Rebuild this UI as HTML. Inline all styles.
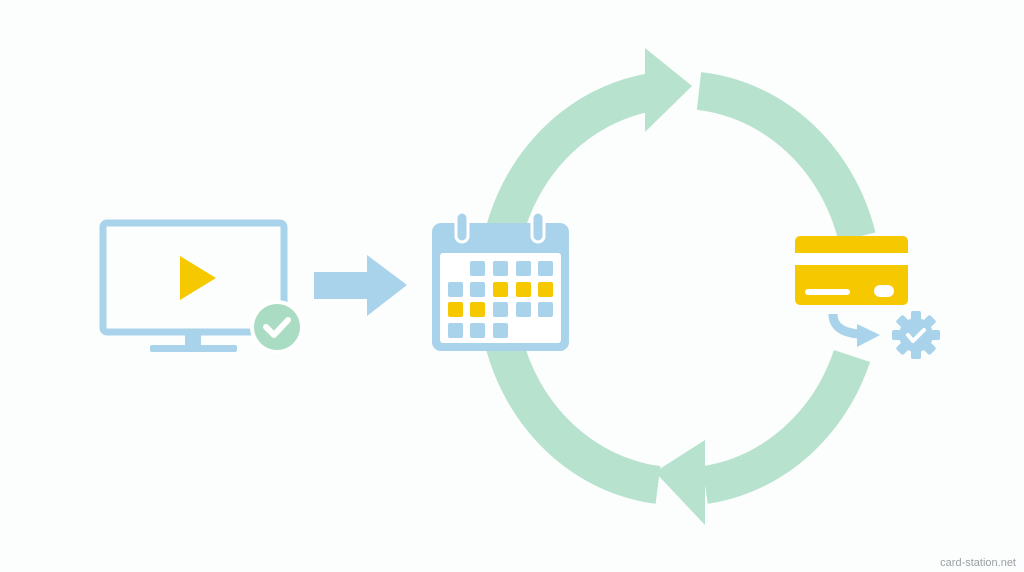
<!DOCTYPE html>
<html><head><style>
html,body{margin:0;padding:0;background:#fdfefe;}
svg{display:block}
</style></head><body>
<svg width="1024" height="572" viewBox="0 0 1024 572" xmlns="http://www.w3.org/2000/svg">
<rect width="1024" height="572" fill="#fcfdfd"/>
<g fill="none" stroke="#b7e2cd" stroke-width="38">
<path d="M503,237 A183,198 0 0 1 652,92"/>
<path d="M699,91 A183,198 0 0 1 857,237"/>
<path d="M852,356 A183,198 0 0 1 705,485"/>
<path d="M658,485 A183,198 0 0 1 503,339"/>
</g>
<polygon points="645,48 692,86 645,132" fill="#b7e2cd"/>
<polygon points="705,440 655,472 705,525" fill="#b7e2cd"/>
<!-- monitor -->
<rect x="103" y="223" width="181" height="109" rx="4" fill="none" stroke="#a9d3eb" stroke-width="7"/>
<rect x="185" y="333" width="16" height="13" fill="#a9d3eb"/>
<rect x="150" y="345" width="87" height="7" rx="2" fill="#a9d3eb"/>
<polygon points="180,256 180,300 216,278" fill="#f5c800"/>
<circle cx="277" cy="327" r="27" fill="#fff"/>
<circle cx="277" cy="327" r="23" fill="#a9dcc3"/>
<path d="M266,327 l8,8 l14,-15" fill="none" stroke="#fff" stroke-width="6" stroke-linecap="round" stroke-linejoin="round"/>
<!-- arrow -->
<rect x="314" y="272" width="56" height="27" fill="#a9d3eb"/>
<polygon points="367,255 407,285 367,316" fill="#a9d3eb"/>
<!-- calendar -->
<rect x="432" y="223" width="137" height="128" rx="9" fill="#a9d3eb"/>
<rect x="440" y="253" width="121" height="90" rx="3" fill="#fff"/>
<rect x="456" y="212" width="12" height="30" rx="6" fill="#a9d3eb" stroke="#fff" stroke-width="3"/>
<rect x="532" y="212" width="12" height="30" rx="6" fill="#a9d3eb" stroke="#fff" stroke-width="3"/>
<g fill="#a9d3eb">
<rect x="470" y="261" width="15" height="15" rx="2"/><rect x="493" y="261" width="15" height="15" rx="2"/><rect x="516" y="261" width="15" height="15" rx="2"/><rect x="538" y="261" width="15" height="15" rx="2"/>
<rect x="448" y="282" width="15" height="15" rx="2"/><rect x="470" y="282" width="15" height="15" rx="2"/>
<rect x="493" y="302" width="15" height="15" rx="2"/><rect x="516" y="302" width="15" height="15" rx="2"/><rect x="538" y="302" width="15" height="15" rx="2"/>
<rect x="448" y="323" width="15" height="15" rx="2"/><rect x="470" y="323" width="15" height="15" rx="2"/><rect x="493" y="323" width="15" height="15" rx="2"/>
</g>
<g fill="#f5c800">
<rect x="493" y="282" width="15" height="15" rx="2"/><rect x="516" y="282" width="15" height="15" rx="2"/><rect x="538" y="282" width="15" height="15" rx="2"/>
<rect x="448" y="302" width="15" height="15" rx="2"/><rect x="470" y="302" width="15" height="15" rx="2"/>
</g>
<!-- card -->
<rect x="795" y="236" width="113" height="69" rx="5" fill="#f5c800"/>
<rect x="795" y="253" width="113" height="12" fill="#fff"/>
<rect x="805" y="289" width="45" height="6" rx="3" fill="#fff"/>
<rect x="874" y="285" width="20" height="12" rx="6" fill="#fff"/>
<path d="M833,314 q0,18 26,20" fill="none" stroke="#a9d3eb" stroke-width="9"/>
<polygon points="857,324 880,335 857,347" fill="#a9d3eb"/>
<!-- gear -->
<g transform="translate(916,335)" fill="#a9d3eb">
<circle r="17"/>
<g>
<rect x="-5" y="-24" width="10" height="10" rx="2"/>
<rect x="-5" y="-24" width="10" height="10" rx="2" transform="rotate(45)"/>
<rect x="-5" y="-24" width="10" height="10" rx="2" transform="rotate(90)"/>
<rect x="-5" y="-24" width="10" height="10" rx="2" transform="rotate(135)"/>
<rect x="-5" y="-24" width="10" height="10" rx="2" transform="rotate(180)"/>
<rect x="-5" y="-24" width="10" height="10" rx="2" transform="rotate(225)"/>
<rect x="-5" y="-24" width="10" height="10" rx="2" transform="rotate(270)"/>
<rect x="-5" y="-24" width="10" height="10" rx="2" transform="rotate(315)"/>
</g>
<path d="M-8,0 l5,6 l11,-11" fill="none" stroke="#fff" stroke-width="4" stroke-linecap="round" stroke-linejoin="round"/>
</g>
<text x="1016" y="566" text-anchor="end" font-family="Liberation Sans, sans-serif" font-size="11" fill="#9aa0a4">card-station.net</text>
</svg>
</body></html>
